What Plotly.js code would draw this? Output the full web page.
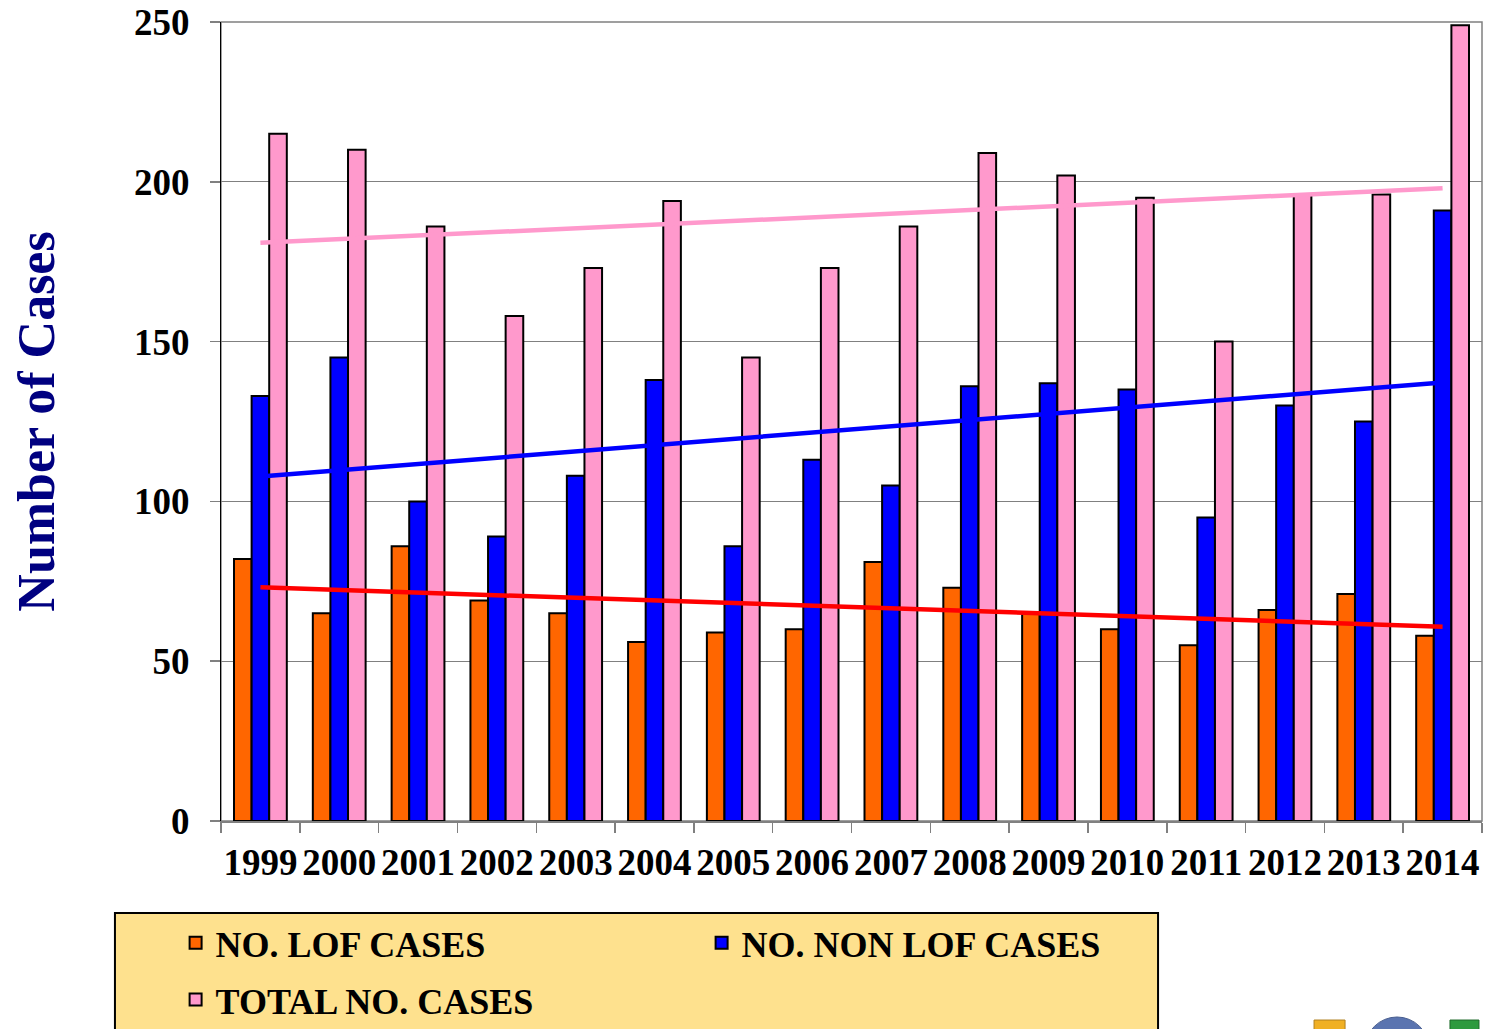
<!DOCTYPE html>
<html>
<head>
<meta charset="utf-8">
<script src="https://cdn.plot.ly/plotly-3.0.1.min.js"></script>
<style>
  html, body { margin: 0; padding: 0; background: #ffffff; }
  #chart { width: 1494px; height: 1029px; }
</style>
</head>
<body>
<div id="chart"></div>
<script>
// ---- data ----
const years = ['1999','2000','2001','2002','2003','2004','2005','2006','2007','2008','2009','2010','2011','2012','2013','2014'];
const lofCases = [82, 65, 86, 69, 65, 56, 59, 60, 81, 73, 65, 60, 55, 66, 71, 58];
const nonLofCases = [133, 145, 100, 89, 108, 138, 86, 113, 105, 136, 137, 135, 95, 130, 125, 191];
const totalCases = [215, 210, 186, 158, 173, 194, 145, 173, 186, 209, 202, 195, 150, 196, 196, 249];

// linear trend lines (start / end values)
const trendYears = ['1999', '2014'];
const lofTrend = [73.1, 60.8];
const nonLofTrend = [107.8, 137.2];
const totalTrend = [180.9, 198.0];

const seriesNames = ['NO. LOF CASES', 'NO. NON LOF CASES', 'TOTAL NO. CASES'];
const yTicks = [0, 50, 100, 150, 200, 250];

// ---- styles ----
const FONT = '"Liberation Serif", "Times New Roman", serif';
const cOrange = '#FF6600', cBlue = '#0000FF', cPink = '#FF99CC', cRed = '#FF0000';

const barLine = { color: '#000000', width: 2 };

const traces = [
  { type: 'bar', name: seriesNames[0], x: years, y: lofCases,
    marker: { color: cOrange, line: barLine }, legend: 'legend' },
  { type: 'bar', name: seriesNames[1], x: years, y: nonLofCases,
    marker: { color: cBlue, line: barLine }, legend: 'legend' },
  { type: 'bar', name: seriesNames[2], x: years, y: totalCases,
    marker: { color: cPink, line: barLine }, legend: 'legend2' },
  { type: 'scatter', mode: 'lines', x: trendYears, y: totalTrend,
    line: { color: cPink, width: 4.5 }, showlegend: false, hoverinfo: 'skip' },
  { type: 'scatter', mode: 'lines', x: trendYears, y: nonLofTrend,
    line: { color: cBlue, width: 4.5 }, showlegend: false, hoverinfo: 'skip' },
  { type: 'scatter', mode: 'lines', x: trendYears, y: lofTrend,
    line: { color: cRed, width: 4.5 }, showlegend: false, hoverinfo: 'skip' }
];

const legendCommon = {
  orientation: 'h',
  xref: 'paper', yref: 'paper',
  xanchor: 'left', yanchor: 'middle',
  bgcolor: 'rgba(0,0,0,0)', borderwidth: 0,
  font: { family: FONT, size: 36, color: '#000000', weight: 'bold' },
  entrywidth: 481, entrywidthmode: 'pixels',
  valign: 'middle',
  traceorder: 'normal'
};

const layout = {
  width: 1494, height: 1029,
  paper_bgcolor: '#ffffff', plot_bgcolor: '#ffffff',
  margin: { l: 221, r: 12, t: 22, b: 208, autoexpand: false },
  font: { family: FONT, color: '#000000' },
  barmode: 'group',
  bargap: 0.33,
  bargroupgap: 0,
  showlegend: true,
  xaxis: {
    type: 'category',
    categoryorder: 'array', categoryarray: years,
    tickson: 'boundaries',
    ticks: 'outside', ticklen: 10, tickwidth: 1.5, tickcolor: '#808080',
    tickangle: 0,
    tickfont: { family: FONT, size: 37, color: '#000000', weight: 'bold' },
    ticklabelstandoff: 8,
    showgrid: false,
    showline: true, linecolor: '#808080', linewidth: 1.5,
    zeroline: false,
    fixedrange: true
  },
  yaxis: {
    range: [0, 250],
    tickvals: yTicks,
    ticktext: yTicks.map(String),
    ticks: 'outside', ticklen: 10, tickwidth: 1.5, tickcolor: '#808080',
    tickfont: { family: FONT, size: 37, color: '#000000', weight: 'bold' },
    ticklabelstandoff: 13,
    showgrid: true, gridcolor: '#808080', gridwidth: 1.3,
    showline: true, linecolor: '#000000', linewidth: 1,
    zeroline: false,
    title: {
      text: 'Number of Cases',
      font: { family: FONT, size: 52, color: '#000080', weight: 'bold' },
      standoff: 62
    },
    fixedrange: true
  },
  legend: Object.assign({}, legendCommon, { x: -0.036, y: -0.1525 }),
  legend2: Object.assign({}, legendCommon, { x: -0.036, y: -0.2235 }),
  shapes: [
    // plot frame
    { type: 'rect', xref: 'paper', yref: 'paper', x0: 0, x1: 1, y0: 0, y1: 1,
      line: { color: '#808080', width: 1.5 }, fillcolor: 'rgba(0,0,0,0)', layer: 'below' },
    // legend box
    { type: 'rect', xref: 'paper', yref: 'paper', x0: -0.0841, x1: 0.7431, y0: -0.1151, y1: -0.29,
      line: { color: '#000000', width: 2 }, fillcolor: '#FEE18E', layer: 'below' },
    // logo fragments (bottom right)
    { type: 'rect', xref: 'paper', yref: 'paper', x0: 0.8668, x1: 0.8914, y0: -0.2491, y1: -0.29,
      line: { color: '#B08020', width: 1 }, fillcolor: '#F0B024', layer: 'below' },
    { type: 'circle', xref: 'paper', yref: 'paper', x0: 0.9072, x1: 0.9580, y0: -0.2453, y1: -0.3255,
      line: { color: '#4A5F90', width: 1 }, fillcolor: '#5A74B0', layer: 'below' },
    { type: 'rect', xref: 'paper', yref: 'paper', x0: 0.9746, x1: 0.9976, y0: -0.2491, y1: -0.29,
      line: { color: '#1E6B2A', width: 1 }, fillcolor: '#2E9A3E', layer: 'below' }
  ]
};

Plotly.newPlot('chart', traces, layout, { displayModeBar: false, staticPlot: true });
</script>
</body>
</html>
